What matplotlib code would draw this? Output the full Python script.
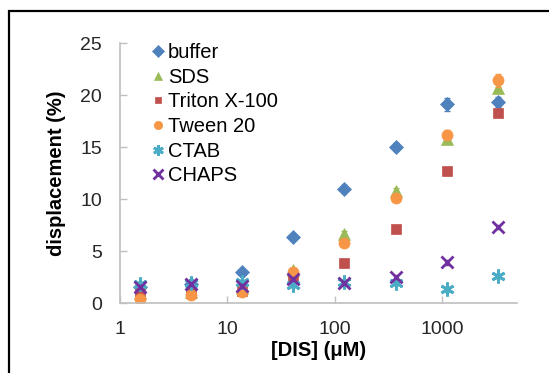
import matplotlib.pyplot as plt
from matplotlib.patches import Rectangle

plt.rcParams['font.family'] = ['Liberation Sans', 'DejaVu Sans']

conc = [1.52, 4.57, 13.7, 41.2, 123, 370, 1111, 3333]

buffer = [1.5, 1.8, 3.0, 6.3, 11.0, 15.0, 19.1, 19.3]
sds = [1.0, 1.1, 1.4, 3.2, 6.6, 10.8, 15.8, 20.7]
triton = [1.0, 1.0, 1.2, 2.4, 3.8, 7.1, 12.7, 18.3]
tween = [0.4, 0.8, 1.1, 3.0, 5.8, 10.1, 16.2, 21.4]
ctab = [1.8, 1.9, 2.0, 1.7, 2.0, 1.9, 1.3, 2.6]
chaps = [1.5, 1.8, 1.6, 2.3, 1.9, 2.5, 3.9, 7.3]

buffer_err = [0.1, 0.1, 0.2, 0.2, 0.3, 0.4, 0.6, 0.5]
sds_err = [0.1, 0.1, 0.1, 0.2, 0.3, 0.3, 0.3, 0.4]
triton_err = [0.1, 0.1, 0.1, 0.1, 0.2, 0.2, 0.2, 0.3]
tween_err = [0.1, 0.1, 0.1, 0.2, 0.3, 0.3, 0.4, 0.6]
ctab_err = [0.2, 0.2, 0.2, 0.2, 0.2, 0.2, 0.2, 0.2]
chaps_err = [0.2, 0.2, 0.2, 0.2, 0.2, 0.2, 0.2, 0.2]

series = [
    ('buffer', buffer, buffer_err, '#4F81BD', 'D', 7.5),
    ('SDS', sds, sds_err, '#9BBB59', '^', 8),
    ('Triton X-100', triton, triton_err, '#C0504D', 's', 6.5),
    ('Tween 20', tween, tween_err, '#F79646', 'o', 8),
    ('CTAB', ctab, ctab_err, '#4BACC6', (6, 2, 0), 10),
    ('CHAPS', chaps, chaps_err, '#7030A0', 'x', 9),
]

fig = plt.figure(figsize=(5.49, 3.73), dpi=100)
ax = fig.add_axes([120/549, 1 - 303/373, 397/549, 260/373])

for name, vals, err, col, mk, ms in series:
    ax.errorbar(conc, vals, yerr=err, fmt='none', ecolor=col, elinewidth=1, capsize=2)
    ax.plot(conc, vals, linestyle='none', marker=mk, markersize=ms, color=col,
            markeredgecolor=col, markeredgewidth=2 if mk in ('x', (6, 2, 0)) else 0.5,
            label=name)

ax.set_xscale('log')
ax.set_xlim(1, 5000)
ax.set_ylim(0, 25)
ax.set_xticks([1, 10, 100, 1000])
ax.set_xticklabels(['1', '10', '100', '1000'])
ax.set_yticks([0, 5, 10, 15, 20, 25])
ax.minorticks_off()
ax.tick_params(direction='in', length=5, width=1, color='#bfbfbf',
               labelsize=14, labelcolor='#262626', pad=13)

for s in ['top', 'right']:
    ax.spines[s].set_visible(False)
for s in ['left', 'bottom']:
    ax.spines[s].set_color('#bfbfbf')
    ax.spines[s].set_linewidth(1.2)

ax.set_xlabel('[DIS] (μM)', fontsize=14.5, fontweight='bold', labelpad=2)
ax.set_ylabel('displacement (%)', fontsize=14.5, fontweight='bold', labelpad=10)

ax.legend(loc='upper left', bbox_to_anchor=(0.08, 1.0), frameon=False,
          fontsize=14.5, handlelength=0.6, handletextpad=0.2, borderpad=0,
          labelspacing=0.28, borderaxespad=0, markerscale=0.75)

fig.add_artist(Rectangle((9/549, -0.1), 1.0, (1 - 11/373) + 0.1,
                         transform=fig.transFigure, fill=False,
                         edgecolor='black', linewidth=1.6))

fig.savefig('out.png', dpi=100)
